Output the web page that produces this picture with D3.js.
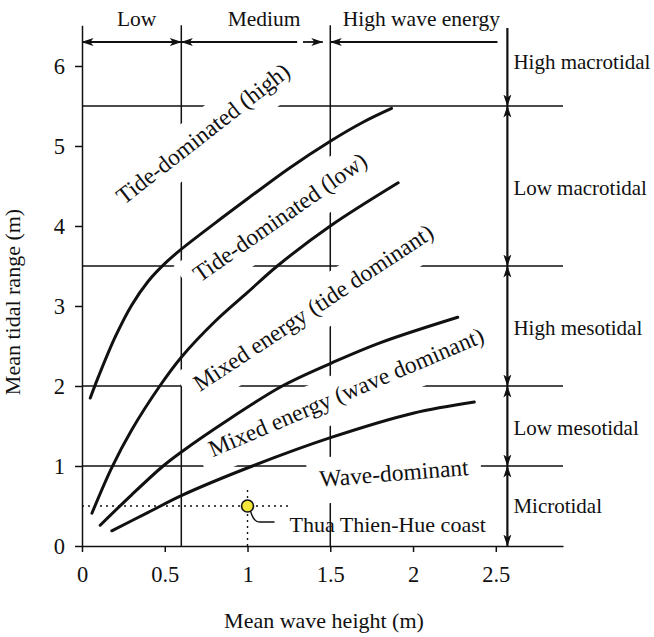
<!DOCTYPE html>
<html><head><meta charset="utf-8">
<script src="https://cdn.jsdelivr.net/npm/d3@7"></script>
<style>
html,body{margin:0;padding:0;background:#fff;}
svg{display:block;font-family:"Liberation Serif","Times New Roman",serif;}
</style></head><body>
<svg id="chart" width="654" height="637"></svg>
<script>
// Boundary curves between coastal classes: [mean wave height (m), mean tidal range (m)]
const tideHighBoundary = [[0.05,1.85],[0.1,2.12],[0.2,2.61],[0.3,3.01],[0.4,3.31],[0.5,3.53],[0.6,3.71],[0.8,4.03],[1.0,4.34],[1.25,4.72],[1.5,5.06],[1.7,5.3],[1.87,5.47]];
const tideLowBoundary  = [[0.06,0.41],[0.18,0.98],[0.3,1.45],[0.47,2.0],[0.6,2.36],[0.8,2.8],[1.0,3.17],[1.18,3.5],[1.5,4.0],[1.91,4.54]];
const mixedBoundary    = [[0.11,0.26],[0.3,0.64],[0.49,1.0],[0.59,1.16],[0.9,1.6],[1.21,2.0],[1.51,2.29],[1.8,2.54],[2.27,2.86]];
const waveBoundary     = [[0.18,0.19],[0.4,0.42],[0.6,0.63],[1.03,1.0],[1.51,1.36],[2.0,1.66],[2.37,1.8]];

// Axis ticks
const xTicks = [0, 0.5, 1, 1.5, 2, 2.5];
const yTicks = [0, 1, 2, 3, 4, 5, 6];

// Wave energy classes (m) and tidal range classes (m)
const energyNames = ["Low", "Medium", "High wave energy"];
const energyBreaks = [0, 0.6, 1.5, 2.51];
const tidalNames = ["High macrotidal", "Low macrotidal", "High mesotidal", "Low mesotidal", "Microtidal"];
const tidalBreaks = [6.475, 5.5, 3.5, 2, 1, 0];

// Region names written between the curves
const regionNames = ["Tide-dominated (high)", "Tide-dominated (low)", "Mixed energy (tide dominant)", "Mixed energy (wave dominant)", "Wave-dominant"];

// Study site
const siteName = "Thua Thien-Hue coast";
const siteWave = 1.0;
const siteTide = 0.5;

// ---- layout ----
const svg = d3.select("#chart");
const x = d3.scaleLinear().domain([0, 2.906]).range([82, 563]);
const y = d3.scaleLinear().domain([0, 6.51]).range([546, 25.2]);
const ink = "#111";

// where the region names start (data units) and their slant (deg)
const regionPos = [
  {x: 0.254, y: 4.26, a: -38},
  {x: 0.713, y: 3.29, a: -35},
  {x: 0.713, y: 1.925, a: -33.5},
  {x: 0.79, y: 1.11, a: -23},
  {x: 1.438, y: 0.74, a: -4.5}
];
const energyLabelX = [0.33, 1.1, 2.05];
const tidalLabelY = [6.05, 4.48, 2.73, 1.48, 0.5];
const arrowX = 2.57;
const topArrowY = 6.3;

const defs = svg.append("defs");
defs.append("marker")
  .attr("id", "head")
  .attr("viewBox", "0 -5 12 10")
  .attr("refX", 11.5).attr("refY", 0)
  .attr("markerWidth", 12).attr("markerHeight", 10)
  .attr("markerUnits", "userSpaceOnUse")
  .attr("orient", "auto-start-reverse")
  .append("path")
  .attr("d", "M0,-4 L12,0 L0,4 L3,0 Z")
  .attr("fill", ink);

const gridLayer = svg.append("g");
const maskLayer = svg.append("g");
const curveLayer = svg.append("g");
const textLayer = svg.append("g");

// class boundary lines
const hBreaks = tidalBreaks.slice(1, 5);
gridLayer.selectAll("line.h").data(hBreaks).join("line")
  .attr("x1", x(0)).attr("x2", x.range()[1])
  .attr("y1", d => y(d)).attr("y2", d => y(d))
  .attr("stroke", ink).attr("stroke-width", 1.5);
gridLayer.selectAll("line.v").data(energyBreaks.slice(1, 3)).join("line")
  .attr("x1", d => x(d)).attr("x2", d => x(d))
  .attr("y1", y(0)).attr("y2", y.range()[1])
  .attr("stroke", ink).attr("stroke-width", 1.5);

// axes
const yAxis = d3.axisLeft(y).tickValues(yTicks).tickSize(7).tickSizeOuter(0).tickPadding(10).tickFormat(d3.format("d"));
const xAxis = d3.axisBottom(x).tickValues(xTicks).tickSize(6).tickSizeOuter(0).tickPadding(14).tickFormat(d => String(d));
const gy = svg.append("g").attr("transform", `translate(${x(0)},0)`).call(yAxis);
const gx = svg.append("g").attr("transform", `translate(0,${y(0)})`).call(xAxis);
[gx, gy].forEach(g => {
  g.select(".domain").attr("stroke", ink).attr("stroke-width", 1.5);
  g.selectAll(".tick line").attr("stroke", ink).attr("stroke-width", 1.5);
  g.selectAll(".tick text").attr("fill", ink).attr("font-size", 22.5)
    .attr("font-family", "Liberation Serif, Times New Roman, serif");
});

// axis titles
svg.append("text").attr("x", 324).attr("y", 628).attr("text-anchor", "middle")
  .attr("font-size", 22).attr("fill", ink).text("Mean wave height (m)");
svg.append("text").attr("transform", `translate(20,${y(3.05)}) rotate(-90)`)
  .attr("text-anchor", "middle").attr("font-size", 22).attr("fill", ink)
  .text("Mean tidal range (m)");

// boundary curves
const line = d3.line().x(d => x(d[0])).y(d => y(d[1])).curve(d3.curveCatmullRom.alpha(0.5));
curveLayer.selectAll("path.c").data([tideHighBoundary, tideLowBoundary, mixedBoundary, waveBoundary]).join("path")
  .attr("d", line).attr("fill", "none").attr("stroke", ink)
  .attr("stroke-width", 3).attr("stroke-linecap", "round");

// region names with a white backing that interrupts the grid lines
regionNames.forEach((name, i) => {
  const p = regionPos[i];
  const tr = `translate(${x(p.x)},${y(p.y)}) rotate(${p.a})`;
  const t = textLayer.append("text").attr("transform", tr)
    .attr("font-size", 23.5).attr("fill", ink).text(name);
  const b = t.node().getBBox();
  maskLayer.append("rect").attr("transform", tr)
    .attr("x", b.x - 12).attr("y", b.y - 8)
    .attr("width", b.width + 24).attr("height", b.height + 20)
    .attr("fill", "#fff");
});

// wave energy arrows along the top
const ty = y(topArrowY);
const arrows = svg.append("g").attr("stroke", ink).attr("stroke-width", 1.8).attr("fill", "none");
arrows.append("line").attr("x1", x(energyBreaks[0])).attr("x2", x(energyBreaks[1])).attr("y1", ty).attr("y2", ty)
  .attr("marker-start", "url(#head)").attr("marker-end", "url(#head)");
arrows.append("line").attr("x1", x(energyBreaks[1])).attr("x2", x(1.30)).attr("y1", ty).attr("y2", ty)
  .attr("marker-start", "url(#head)");
arrows.append("line").attr("x1", x(1.335)).attr("x2", x(1.455)).attr("y1", ty).attr("y2", ty)
  .attr("marker-end", "url(#head)");
arrows.append("line").attr("x1", x(energyBreaks[2])).attr("x2", x(energyBreaks[3])).attr("y1", ty).attr("y2", ty)
  .attr("marker-start", "url(#head)");

svg.selectAll("text.energy").data(energyNames).join("text")
  .attr("x", (d, i) => x(energyLabelX[i])).attr("y", 26)
  .attr("text-anchor", "middle").attr("font-size", 21.5).attr("fill", ink).text(d => d);

// tidal range arrows down the right side
const ax = x(arrowX);
tidalNames.forEach((name, i) => {
  const l = arrows.append("line").attr("x1", ax).attr("x2", ax)
    .attr("y1", y(tidalBreaks[i])).attr("y2", y(tidalBreaks[i + 1]))
    .attr("stroke-width", 2.2)
    .attr("marker-end", "url(#head)");
  if (i > 0) l.attr("marker-start", "url(#head)");
  svg.append("text").attr("x", ax + 6).attr("y", y(tidalLabelY[i]))
    .attr("dy", "0.33em").attr("font-size", 21).attr("fill", ink).text(name);
});

// study site marker with dotted guides
const sx = x(siteWave), sy = y(siteTide);
svg.append("line").attr("x1", x(0)).attr("x2", x(1.26)).attr("y1", sy).attr("y2", sy)
  .attr("stroke", ink).attr("stroke-width", 1.4).attr("stroke-dasharray", "2,4");
svg.append("line").attr("x1", sx).attr("x2", sx).attr("y1", y(0)).attr("y2", y(0.73))
  .attr("stroke", ink).attr("stroke-width", 1.4).attr("stroke-dasharray", "2,4");
svg.append("path")
  .attr("d", `M${sx + 3},${sy + 5} Q${sx + 6},${sy + 16} ${sx + 12},${sy + 16} L${sx + 27},${sy + 16}`)
  .attr("fill", "none").attr("stroke", ink).attr("stroke-width", 1.4);
svg.append("circle").attr("cx", sx).attr("cy", sy).attr("r", 6)
  .attr("fill", "#f4e53a").attr("stroke", ink).attr("stroke-width", 1.6);
svg.append("text").attr("x", sx + 42).attr("y", sy + 26)
  .attr("font-size", 22).attr("fill", ink).text(siteName);
</script>
</body></html>
